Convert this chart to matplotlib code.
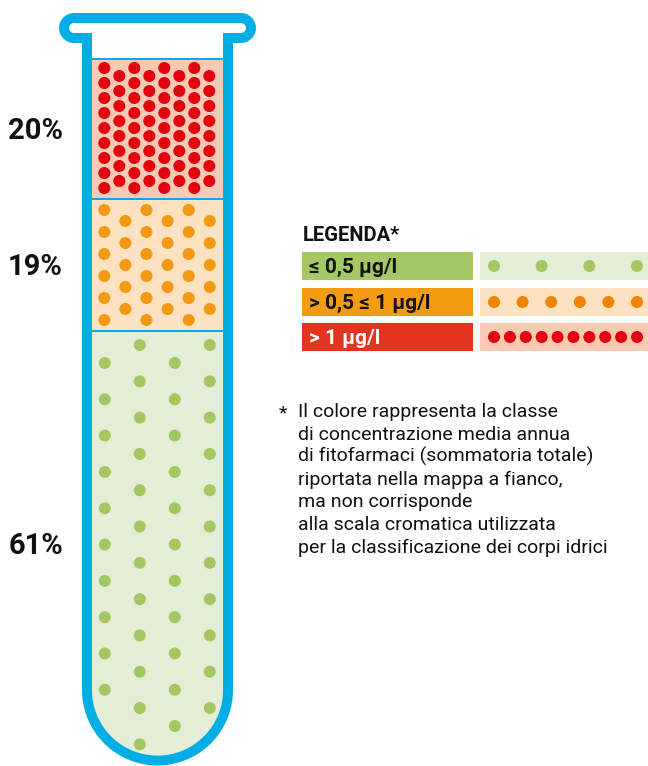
import numpy as np
import matplotlib.pyplot as plt
from matplotlib.patches import Rectangle, Circle, Polygon

plt.rcParams['font.family'] = ['Roboto', 'DejaVu Sans']

# share of water bodies per concentration class, top to bottom in the tube
shares = [20, 19, 61]
share_labels = ['20%', '19%', '61%']

# legend rows, top to bottom
legend_labels = ['≤ 0,5 µg/l', '> 0,5 ≤ 1 µg/l', '> 1 µg/l']
legend_dots = [4, 6, 10]

note_lines = [
    'Il colore rappresenta la classe',
    'di concentrazione media annua',
    'di fitofarmaci (sommatoria totale)',
    'riportata nella mappa a fianco,',
    'ma non corrisponde',
    'alla scala cromatica utilizzata',
    'per la classificazione dei corpi idrici',
]

BLUE = '#00AEE5'
# fill, dot colour and dot pattern for each layer (same order as shares)
layer_bg = ['#F8CAB3', '#FDE2C1', '#E4EED6']
layer_dot = ['#E3000F', '#F39A12', '#A3C862']
# (first column x, column step, n columns, row step, offset even col, offset odd col)
layer_grid = [
    (104.3, 15.0, 8, 15.0, 10.0, 18.0),
    (104.3, 21.1, 6, 22.0, 12.5, 23.5),
    (104.8, 35.0, 4, 36.3, 33.0, 15.0),
]
legend_box = ['#A3C864', '#F39C12', '#E4341E']
legend_txt = ['#111111', '#111111', 'white']
legend_bg = ['#E4EED6', '#FDE2C1', '#F8CAB3']
legend_dot = ['#A3C862', '#EE8400', '#E3000F']

fig = plt.figure(figsize=(6.48, 7.66), dpi=100)
ax = fig.add_axes([0, 0, 1, 1])
ax.set_xlim(0, 648)
ax.set_ylim(766, 0)
ax.axis('off')

PT = 72 / 100  # pixels -> points

# tube geometry (pixels)
cx, cy = 157.5, 690.0
r_out, r_in = 75.5, 65.5


def u_shape(r, top):
    t = np.linspace(np.pi, 0, 80)
    xs = np.concatenate([[cx - r], cx + r * np.cos(t), [cx + r]])
    ys = np.concatenate([[top], cy + r * np.sin(t), [top]])
    return np.column_stack([xs, ys])


# rim
ax.plot([74, 241], [28, 28], color=BLUE, lw=30 * PT, solid_capstyle='round', zorder=1)
ax.add_patch(Polygon(u_shape(r_out, 28), closed=True, fc=BLUE, ec='none', zorder=1))
ax.plot([74, 241], [28, 28], color='white', lw=10 * PT, solid_capstyle='round', zorder=2)
inner = Polygon(u_shape(r_in, 28), closed=True, fc='white', ec='none', zorder=2)
ax.add_patch(inner)

# liquid layers
liq_top, liq_bot = 58.0, cy + r_in
height = liq_bot - liq_top
bounds = liq_top + height * np.concatenate([[0], np.cumsum(shares)]) / 100.0
x_l, x_r = cx - r_in, cx + r_in
dot_r = 6.0

for i, share in enumerate(shares):
    top, bot = bounds[i], bounds[i + 1]
    band = Rectangle((x_l, top), x_r - x_l, bot - top, fc=BLUE, ec='none', zorder=3)
    fill = Rectangle((x_l, top + 2), x_r - x_l, bot - top - 2, fc=layer_bg[i], ec='none', zorder=3)
    for p in (band, fill):
        ax.add_patch(p)
        p.set_clip_path(inner)

    x0, dx, ncol, dy, off_even, off_odd = layer_grid[i]
    for c in range(ncol):
        x = x0 + c * dx
        y = top + (off_even if c % 2 == 0 else off_odd)
        while y + dot_r <= bot - 2:
            inside = y <= cy or np.hypot(x - cx, y - cy) + dot_r <= r_in - 1
            if inside:
                ax.add_patch(Circle((x, y), dot_r, fc=layer_dot[i], ec='none', zorder=4))
            y += dy

    mid = (top + 2 + bot) / 2
    ax.text(63, mid + 10.5, share_labels[i], ha='right', va='baseline',
            fontsize=21, fontweight='bold', color='#111111')

# legend
ax.text(303, 241, 'LEGENDA*', ha='left', va='baseline', fontsize=14.5,
        fontweight='bold', color='#111111')
row_top = [252, 288, 323]
for i, lab in enumerate(legend_labels):
    y0 = row_top[i]
    ax.add_patch(Rectangle((302, y0), 171, 28, fc=legend_box[i], ec='none'))
    ax.add_patch(Rectangle((480, y0), 168, 28, fc=legend_bg[i], ec='none'))
    ax.text(309, y0 + 14 + 7, lab, ha='left', va='baseline', fontsize=15,
            fontweight='bold', color=legend_txt[i])
    for x in np.linspace(494, 637, legend_dots[i]):
        ax.add_patch(Circle((x, y0 + 14), 6.0, fc=legend_dot[i], ec='none'))

# footnote
ax.text(279, 418, '*', ha='left', va='baseline', fontsize=14, color='#111111')
for k, line in enumerate(note_lines):
    ax.text(298, 417 + k * 22.6, line, ha='left', va='baseline',
            fontsize=14, color='#111111')

fig.savefig('out.png', dpi=100)
